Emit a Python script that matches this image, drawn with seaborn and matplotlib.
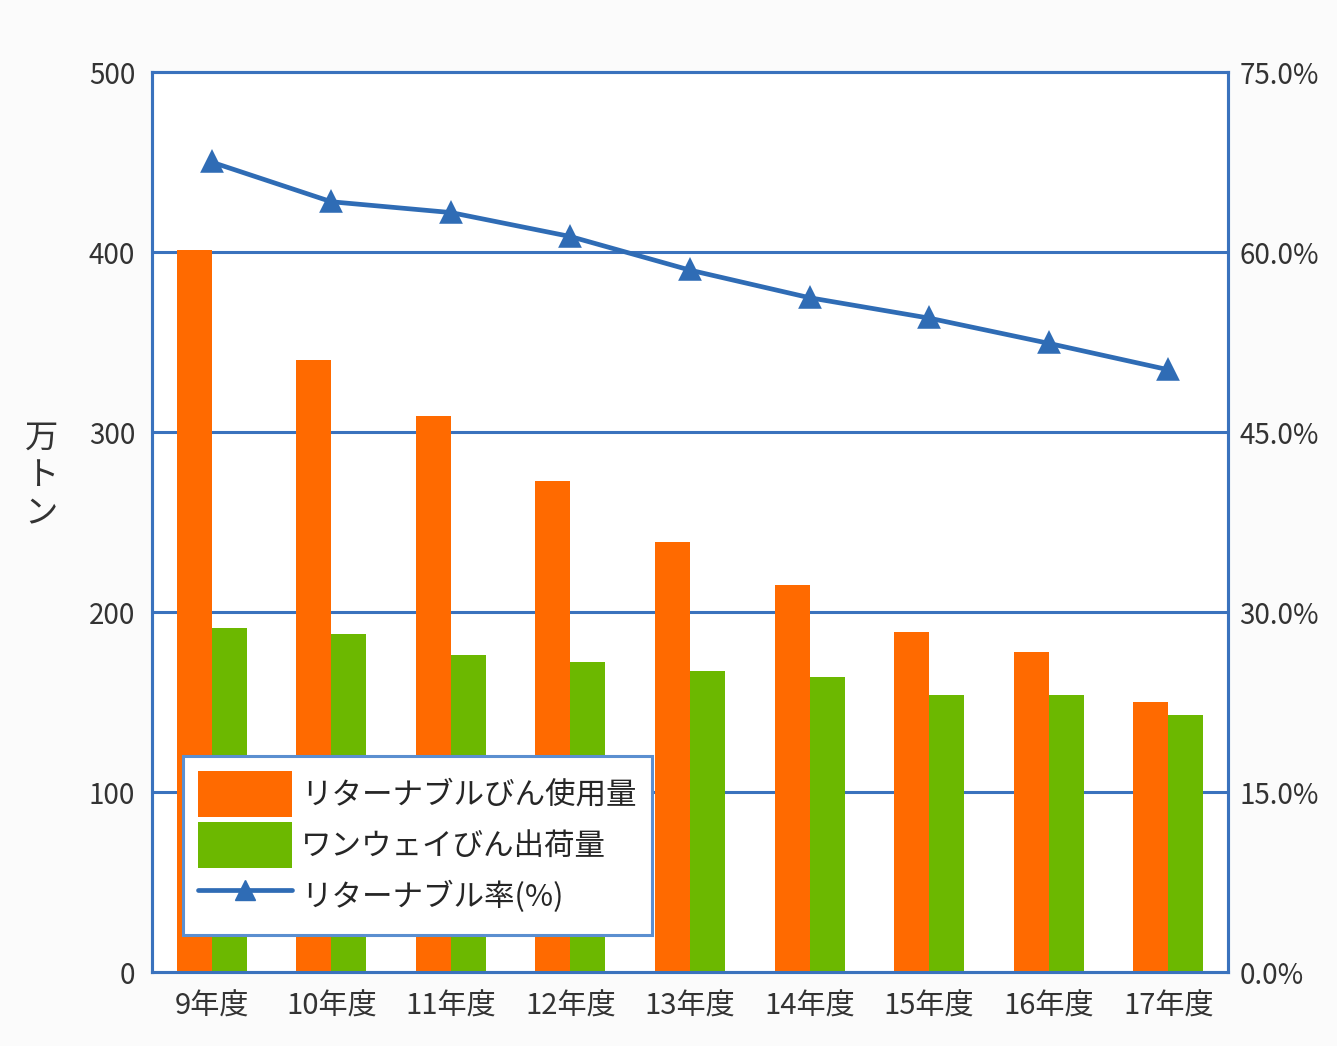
import matplotlib
matplotlib.use("Agg")
import matplotlib.pyplot as plt
from matplotlib.patches import Patch
from matplotlib.lines import Line2D
import seaborn as sns
import pandas as pd

# Fiscal years and series values
years = ["9年度", "10年度", "11年度", "12年度", "13年度", "14年度", "15年度", "16年度", "17年度"]
returnable_use = [401, 340, 309, 273, 239, 215, 189, 178, 150]   # 万トン
oneway_ship = [191, 188, 176, 172, 167, 164, 154, 154, 143]      # 万トン
returnable_rate = [67.5, 64.2, 63.3, 61.3, 58.5, 56.2, 54.5, 52.4, 50.2]  # %

series_names = ["リターナブルびん使用量", "ワンウェイびん出荷量", "リターナブル率(%)"]
left_ticks = [0, 100, 200, 300, 400, 500]
right_ticks = [0, 15, 30, 45, 60, 75]
right_labels = ["0.0%", "15.0%", "30.0%", "45.0%", "60.0%", "75.0%"]

ORANGE = "#ff6a00"
GREEN = "#6cb800"
BLUE = "#2f6cb5"
GRID = "#3a72bd"

sns.set_theme(style="white")
plt.rcParams["font.family"] = ["Noto Sans CJK JP", "DejaVu Sans"]

df = pd.DataFrame({
    "year": years * 2,
    "value": returnable_use + oneway_ship,
    "series": [series_names[0]] * len(years) + [series_names[1]] * len(years),
})

fig = plt.figure(figsize=(13.37, 10.46), dpi=100, facecolor="#fbfbfb")
ax = fig.add_axes([0.1137, 0.0707, 0.8048, 0.8603])
ax.set_facecolor("white")

sns.barplot(data=df, x="year", y="value", hue="series", order=years,
            hue_order=series_names[:2], palette=[ORANGE, GREEN],
            width=0.585, gap=0, saturation=1, edgecolor="none",
            legend=False, ax=ax, zorder=3)

ax.set_ylim(0, 500)
ax.set_xlim(-0.5, len(years) - 0.5)
ax.set_yticks(left_ticks)
ax.set_yticklabels([str(t) for t in left_ticks], fontsize=20, color="#333333")
ax.tick_params(axis="both", length=0, pad=12)
ax.tick_params(axis="x", labelsize=21, labelcolor="#333333", pad=14)
ax.set_xlabel("")
ax.set_ylabel("")
for t in [100, 200, 300, 400]:
    ax.axhline(t, color=GRID, lw=2.2, zorder=1)
for s in ax.spines.values():
    s.set_color(GRID)
    s.set_linewidth(2.2)

# Rate on the secondary axis
ax2 = ax.twinx()
sns.pointplot(x=years, y=returnable_rate, ax=ax2, color=BLUE, markers="^",
              linestyles="-", order=years, markersize=13, linewidth=3.4)
ax2.set_ylim(0, 75)
ax2.set_xlim(-0.5, len(years) - 0.5)
ax2.set_yticks(right_ticks)
ax2.set_yticklabels(right_labels, fontsize=20, color="#333333")
ax2.tick_params(axis="y", length=0, pad=8)
ax2.grid(False)
for s in ax2.spines.values():
    s.set_color(GRID)
    s.set_linewidth(2.2)

# Vertical unit label with stacked characters
fig.text(0.031, 0.545, "万\nト\nン", fontsize=24, color="#333333",
         ha="center", va="center", linespacing=1.1)

handles = [
    Patch(facecolor=ORANGE, edgecolor="none"),
    Patch(facecolor=GREEN, edgecolor="none"),
    Line2D([0], [0], color=BLUE, lw=3.4, marker="^", markersize=15),
]
leg = ax2.legend(handles, series_names, loc="lower left",
                 bbox_to_anchor=(0.029, 0.041), fontsize=22,
                 handlelength=3.05, handleheight=1.95, handletextpad=0.3,
                 labelspacing=0.17, borderpad=0.5, borderaxespad=0,
                 frameon=True, fancybox=False, framealpha=1)
leg.get_frame().set_edgecolor("#5b8fd0")
leg.get_frame().set_linewidth(2.2)
leg.set_zorder(10)

fig.savefig("out.png", dpi=100, facecolor=fig.get_facecolor())
